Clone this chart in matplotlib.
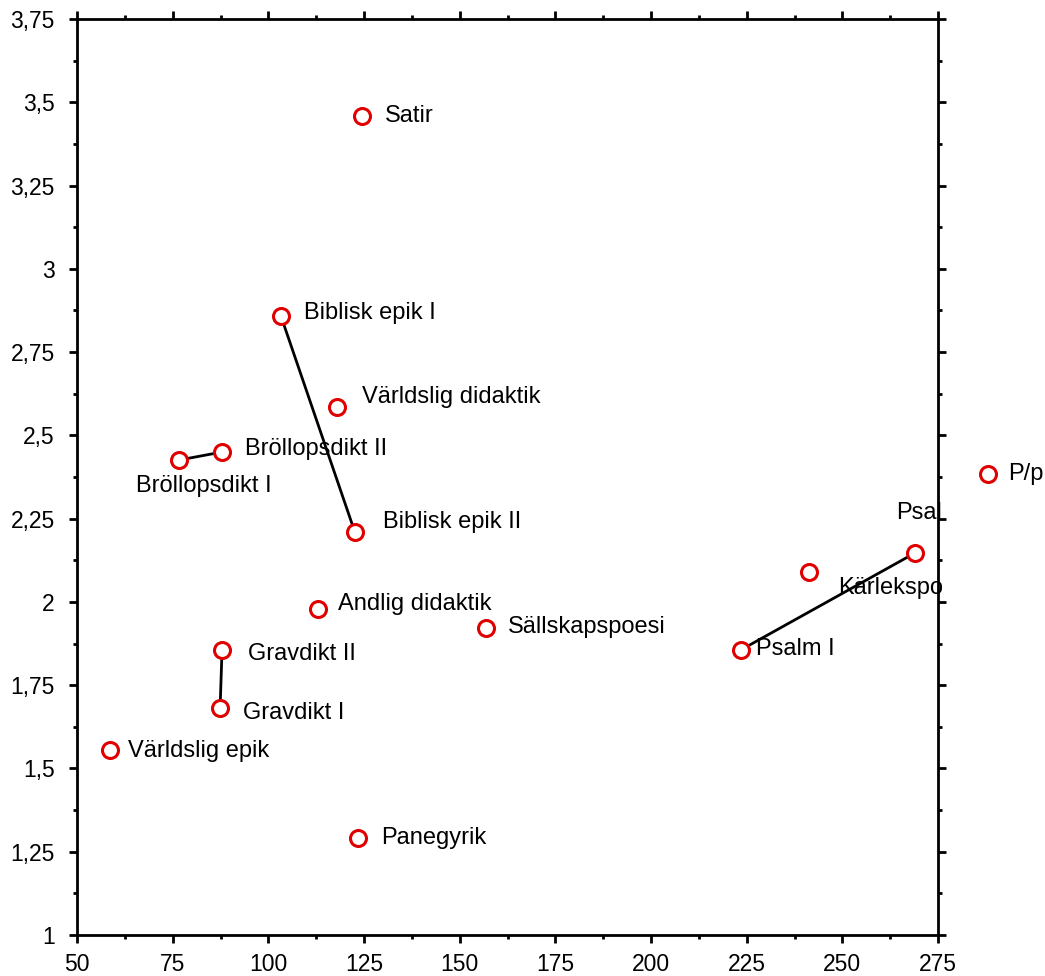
import matplotlib
matplotlib.use("Agg")
import matplotlib.pyplot as plt
from matplotlib.ticker import MultipleLocator

plt.rcParams['font.family'] = ['Liberation Sans', 'DejaVu Sans']

names = ["Satir", "Biblisk epik I", "Världslig didaktik", "Bröllopsdikt II",
         "Bröllopsdikt I", "Biblisk epik II", "Andlig didaktik", "Sällskapspoesi",
         "Gravdikt II", "Gravdikt I", "Världslig epik", "Panegyrik",
         "Psalm I", "Kärlekspo", "Psal", "P/p"]
x_vals = [124.5, 103.3, 117.9, 87.9, 76.7, 122.6, 113.0, 156.9,
          87.9, 87.4, 58.6, 123.4, 223.5, 241.3, 269.0, 288.0]
y_vals = [3.459, 2.858, 2.585, 2.450, 2.426, 2.210, 1.979, 1.922,
          1.856, 1.682, 1.555, 1.291, 1.856, 2.090, 2.147, 2.384]
# pairs connected by lines (indices)
pairs = [(4, 3), (1, 5), (9, 8), (12, 14)]

x_ticks = [50, 75, 100, 125, 150, 175, 200, 225, 250, 275]
x_ticklabels = ["50", "75", "100", "125", "150", "175", "200", "225", "250", "275"]
y_ticks = [1, 1.25, 1.5, 1.75, 2, 2.25, 2.5, 2.75, 3, 3.25, 3.5, 3.75]
y_ticklabels = ["1", "1,25", "1,5", "1,75", "2", "2,25", "2,5", "2,75", "3", "3,25", "3,5", "3,75"]

# label offsets in pixels
offsets = [(23, 0), (23, 3), (25, 10), (23, 3), (-43, -26), (28, 10), (20, 5), (22, 1),
           (26, -4), (23, -5), (18, -1), (23, 0), (15, 1), (29, -16), (-19, 40), (20, 0)]

fig = plt.figure(figsize=(10.45, 9.76), dpi=100)
ax = fig.add_axes([77/1045, 41/976, (938-77)/1045, (935-19)/976])

for a, b in pairs:
    ax.plot([x_vals[a], x_vals[b]], [y_vals[a], y_vals[b]], color='black', lw=2, zorder=2)

ax.plot(x_vals, y_vals, linestyle='none', marker='o', markersize=11.5,
        markerfacecolor='white', markeredgecolor='#e00000', markeredgewidth=2.2,
        clip_on=False, zorder=3)

for n, xv, yv, (dx, dy) in zip(names, x_vals, y_vals, offsets):
    ax.annotate(n, (xv, yv), xytext=(dx, dy), textcoords='offset pixels',
                ha='left', va='center', fontsize=17, color='black',
                annotation_clip=False, zorder=4)

ax.set_xlim(50, 275)
ax.set_ylim(1, 3.75)
ax.set_xticks(x_ticks)
ax.set_xticklabels(x_ticklabels, fontsize=16.5)
ax.set_yticks(y_ticks)
ax.set_yticklabels(y_ticklabels, fontsize=16.5)
ax.xaxis.set_minor_locator(MultipleLocator(12.5))
ax.yaxis.set_minor_locator(MultipleLocator(0.125))
ax.tick_params(which='both', direction='out', top=True, right=True,
               labeltop=False, labelright=False, width=2)
ax.tick_params(which='major', length=6)
ax.tick_params(axis='y', which='major', pad=10)
ax.tick_params(axis='x', which='major', pad=7)
ax.tick_params(which='minor', length=3)
for s in ax.spines.values():
    s.set_linewidth(2)

fig.savefig("out.png", dpi=100)
